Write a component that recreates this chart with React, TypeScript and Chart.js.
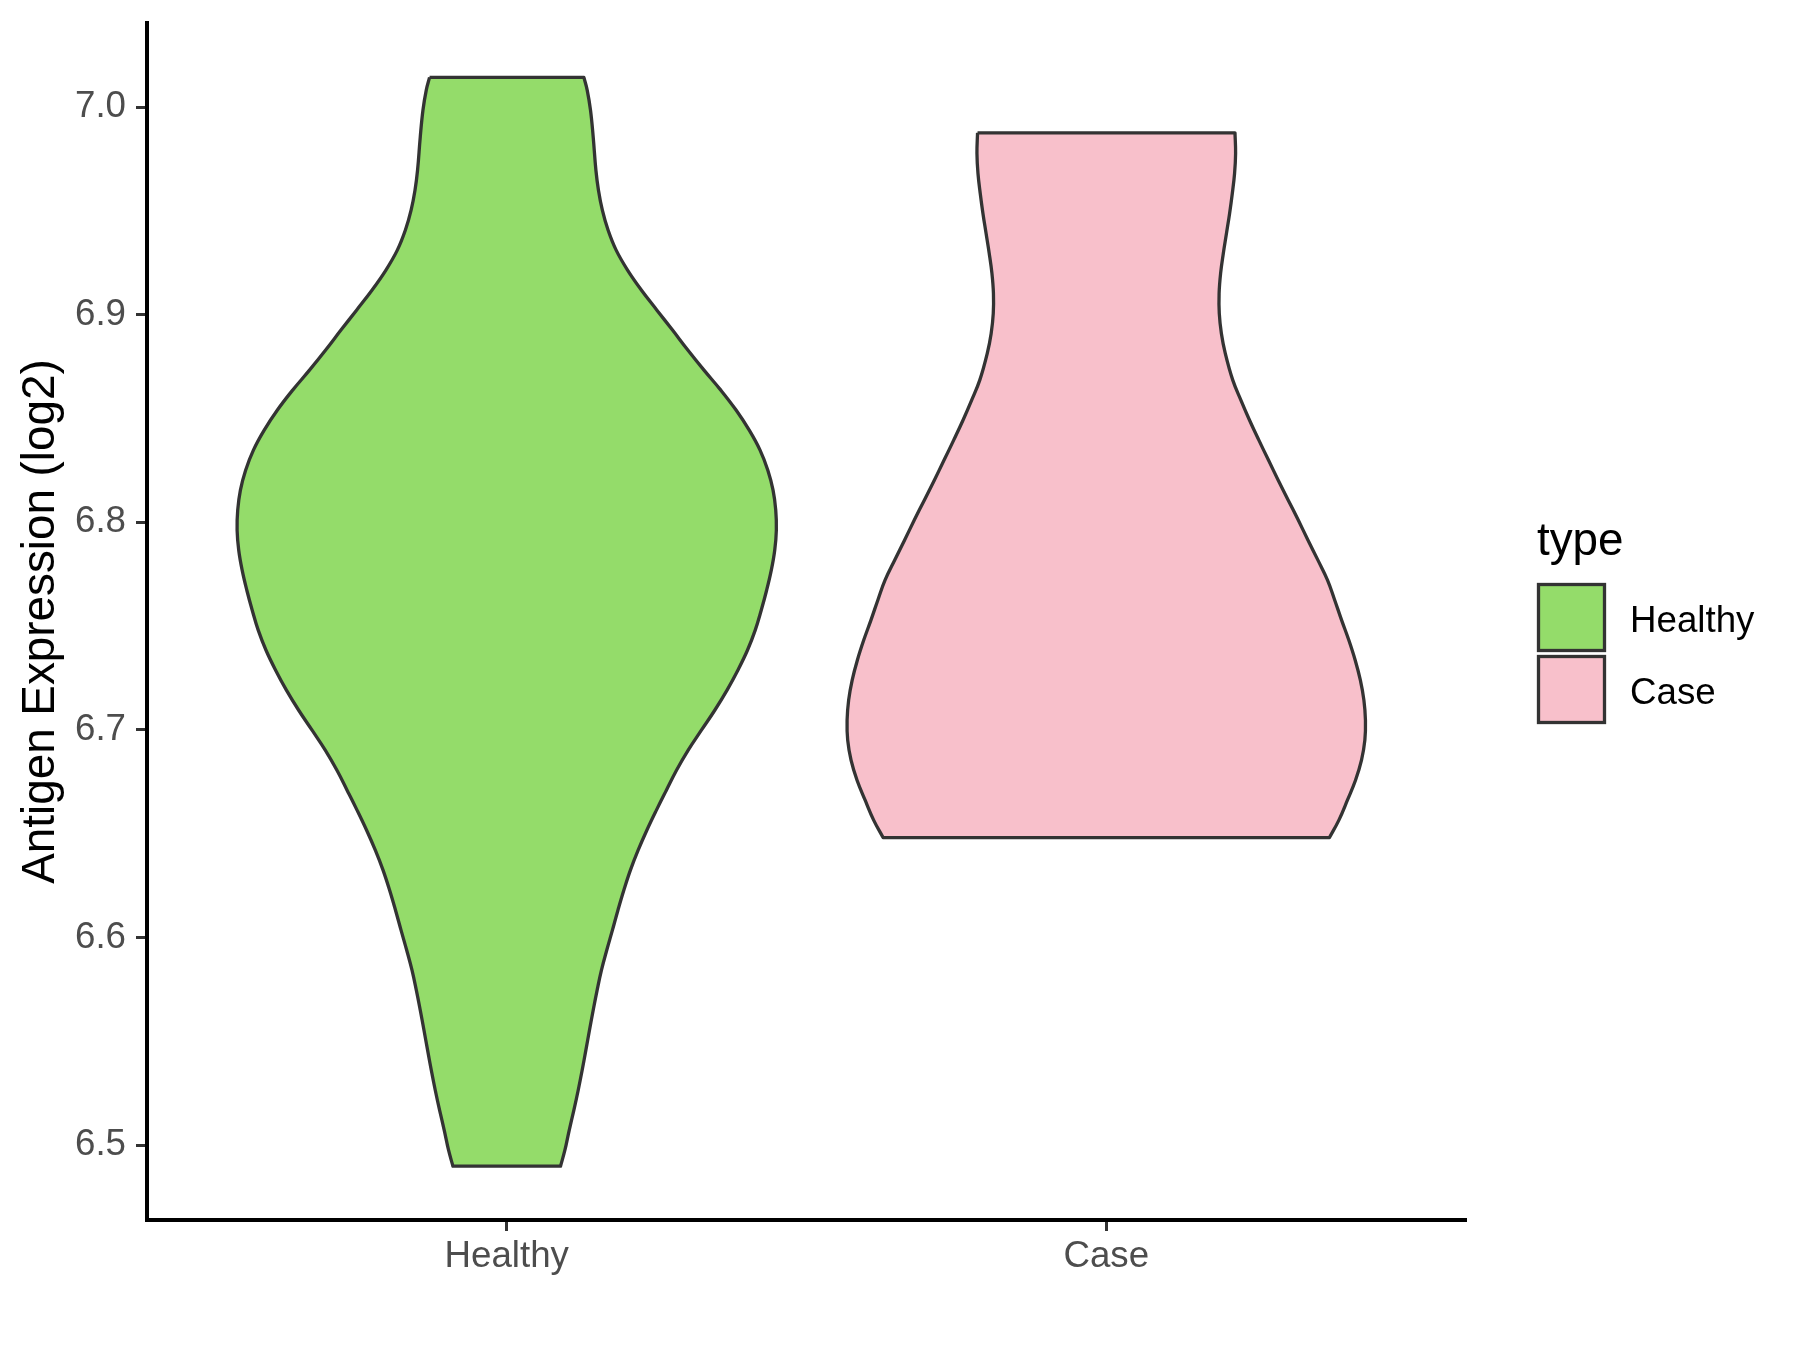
import React, { useEffect, useRef } from 'react';
import { Chart, registerables } from 'chart.js';

Chart.register(...registerables);

const FONT = "'Liberation Sans', Arial, Helvetica, sans-serif";

const CATEGORIES = ['Healthy', 'Case'];
const CATEGORY_POS = [1, 2];
const Y_TICKS = [6.5, 6.6, 6.7, 6.8, 6.9, 7.0];
const LEGEND_TITLE = 'type';
const Y_TITLE = 'Antigen Expression (log2)';

// Violin outlines: expression value and half-width (in category units), top to bottom
const HEALTHY_Y = [7.0143, 7.0082, 6.9986, 6.9857, 6.9697, 6.96, 6.9504, 6.9408, 6.9311, 6.9215, 6.9119, 6.9022, 6.8926, 6.8830, 6.8733, 6.8637, 6.8541, 6.8444, 6.8348, 6.8251, 6.8155, 6.8059, 6.7962, 6.7866, 6.777, 6.7673, 6.7577, 6.7481, 6.7384, 6.7288, 6.7192, 6.7095, 6.6999, 6.6903, 6.6806, 6.671, 6.6614, 6.6517, 6.6421, 6.6325, 6.6228, 6.6132, 6.6036, 6.5939, 6.5843, 6.5747, 6.565, 6.5554, 6.5458, 6.5361, 6.5265, 6.5169, 6.5072, 6.4976, 6.4899];
const HEALTHY_HALF_WIDTH = [0.1287, 0.1342, 0.1397, 0.1442, 0.1487, 0.153, 0.1595, 0.169, 0.1825, 0.2015, 0.2245, 0.2505, 0.2765, 0.302, 0.329, 0.357, 0.3825, 0.4045, 0.4225, 0.4355, 0.4442, 0.4487, 0.4497, 0.447, 0.4413, 0.4335, 0.4245, 0.4145, 0.4015, 0.3855, 0.3675, 0.347, 0.3247, 0.3027, 0.2832, 0.2663, 0.2497, 0.2337, 0.2192, 0.2063, 0.1953, 0.1855, 0.1763, 0.1668, 0.158, 0.1508, 0.1442, 0.138, 0.132, 0.1258, 0.1192, 0.112, 0.1042, 0.097, 0.0897];

const CASE_Y = [6.9876, 6.9777, 6.9681, 6.9584, 6.9488, 6.9392, 6.9295, 6.9199, 6.9103, 6.9006, 6.891, 6.8814, 6.8685, 6.8589, 6.8492, 6.8396, 6.83, 6.8203, 6.8107, 6.8011, 6.7914, 6.7818, 6.7722, 6.763, 6.7529, 6.7433, 6.7336, 6.724, 6.7144, 6.7047, 6.6951, 6.6855, 6.6758, 6.6662, 6.6566, 6.6482];
const CASE_HALF_WIDTH = [0.2147, 0.2157, 0.214, 0.2102, 0.2057, 0.2005, 0.1952, 0.1907, 0.1882, 0.1885, 0.192, 0.1985, 0.211, 0.2245, 0.239, 0.2545, 0.2705, 0.2868, 0.3035, 0.3202, 0.3365, 0.353, 0.369, 0.3805, 0.3925, 0.4045, 0.4152, 0.4238, 0.4297, 0.4323, 0.4313, 0.4257, 0.4157, 0.4022, 0.388, 0.3723];

const FILL_COLORS = ['#94DC6A', '#F8C0CB'];
const LINE_COLOR = '#333333';

function outline(center: number, ys: number[], hws: number[]) {
  const left = ys.map((y, i) => ({ x: center - hws[i], y }));
  const right = ys.map((y, i) => ({ x: center + hws[i], y })).reverse();
  const lb = left[left.length - 1];
  const rb = right[0];
  const rt = right[right.length - 1];
  const lt = left[0];
  // corner points repeated so that the flat top and bottom stay straight
  return [lt, ...left, lb, rb, ...right, rt, lt, lt];
}

const legendPlugin = {
  id: 'ggLegend',
  afterDraw(chart: any) {
    const ctx = chart.ctx;
    ctx.save();
    ctx.fillStyle = '#000000';
    ctx.textAlign = 'left';
    ctx.textBaseline = 'alphabetic';
    ctx.font = `45.8px ${FONT}`;
    ctx.fillText(LEGEND_TITLE, 1537, 555);
    chart.data.datasets.forEach((ds: any, i: number) => {
      const y0 = 584.5 + i * 72;
      ctx.fillStyle = ds.backgroundColor;
      ctx.fillRect(1538.5, y0, 66, 66);
      ctx.strokeStyle = LINE_COLOR;
      ctx.lineWidth = 3.3;
      ctx.strokeRect(1538.5, y0, 66, 66);
      ctx.fillStyle = '#000000';
      ctx.font = `36.7px ${FONT}`;
      ctx.textBaseline = 'middle';
      ctx.fillText(ds.label, 1630, y0 + 37);
      ctx.textBaseline = 'alphabetic';
    });
    ctx.restore();
  },
};

function makeDataset(i: number, ys: number[], hws: number[]) {
  return {
    label: CATEGORIES[i],
    data: outline(CATEGORY_POS[i], ys, hws),
    showLine: true,
    fill: 'shape',
    backgroundColor: FILL_COLORS[i],
    borderColor: LINE_COLOR,
    borderWidth: 3.3,
    borderJoinStyle: 'round',
    pointRadius: 0,
    tension: 0.4,
  };
}

export default function App() {
  const ref = useRef<HTMLCanvasElement | null>(null);
  useEffect(() => {
    if (!ref.current) return;
    const chart = new Chart(ref.current, {
      type: 'scatter',
      data: {
        datasets: [
          makeDataset(0, HEALTHY_Y, HEALTHY_HALF_WIDTH),
          makeDataset(1, CASE_Y, CASE_HALF_WIDTH),
        ],
      } as any,
      options: {
        animation: false,
        responsive: false,
        maintainAspectRatio: false,
        layout: { padding: { top: 23, right: 334, bottom: 0, left: 0 } },
        plugins: { legend: { display: false }, tooltip: { enabled: false } },
        scales: {
          x: {
            type: 'linear',
            min: 0.4,
            max: 2.6,
            afterBuildTicks: (s: any) => {
              s.ticks = CATEGORY_POS.map((v) => ({ value: v }));
            },
            afterFit: (s: any) => {
              s.height = 130;
              s.paddingLeft = 0;
              s.paddingRight = 0;
            },
            ticks: {
              autoSkip: false,
              maxRotation: 0,
              padding: 4,
              color: '#4D4D4D',
              font: { size: 36.7, family: FONT },
              callback: (v: any) => {
                const i = CATEGORY_POS.indexOf(Number(v));
                return i >= 0 ? CATEGORIES[i] : '';
              },
            },
            grid: {
              display: true,
              drawOnChartArea: false,
              drawTicks: true,
              tickLength: 11,
              tickWidth: 3,
              tickColor: LINE_COLOR,
              color: 'rgba(0,0,0,0)',
            },
            border: { display: true, color: '#000000', width: 4 },
          },
          y: {
            type: 'linear',
            min: 6.464,
            max: 7.0405,
            afterBuildTicks: (s: any) => {
              s.ticks = Y_TICKS.map((v) => ({ value: v }));
            },
            afterFit: (s: any) => {
              s.width = 147;
              s.paddingTop = 0;
              s.paddingBottom = 0;
            },
            ticks: {
              padding: 10,
              color: '#4D4D4D',
              font: { size: 36.7, family: FONT },
              callback: (v: any) => Number(v).toFixed(1),
            },
            title: {
              display: true,
              text: Y_TITLE,
              color: '#000000',
              font: { size: 45.8, family: FONT },
              padding: { top: 14, bottom: 0 },
            },
            grid: {
              display: true,
              drawOnChartArea: false,
              drawTicks: true,
              tickLength: 11,
              tickWidth: 3,
              tickColor: LINE_COLOR,
              color: 'rgba(0,0,0,0)',
            },
            border: { display: true, color: '#000000', width: 4 },
          },
        },
      } as any,
      plugins: [legendPlugin],
    });
    return () => chart.destroy();
  }, []);
  return (
    <div style={{ position: 'absolute', left: 0, top: 0, width: 1800, height: 1350, background: '#ffffff' }}>
      <canvas ref={ref} width={1800} height={1350} style={{ width: 1800, height: 1350 }} />
    </div>
  );
}
